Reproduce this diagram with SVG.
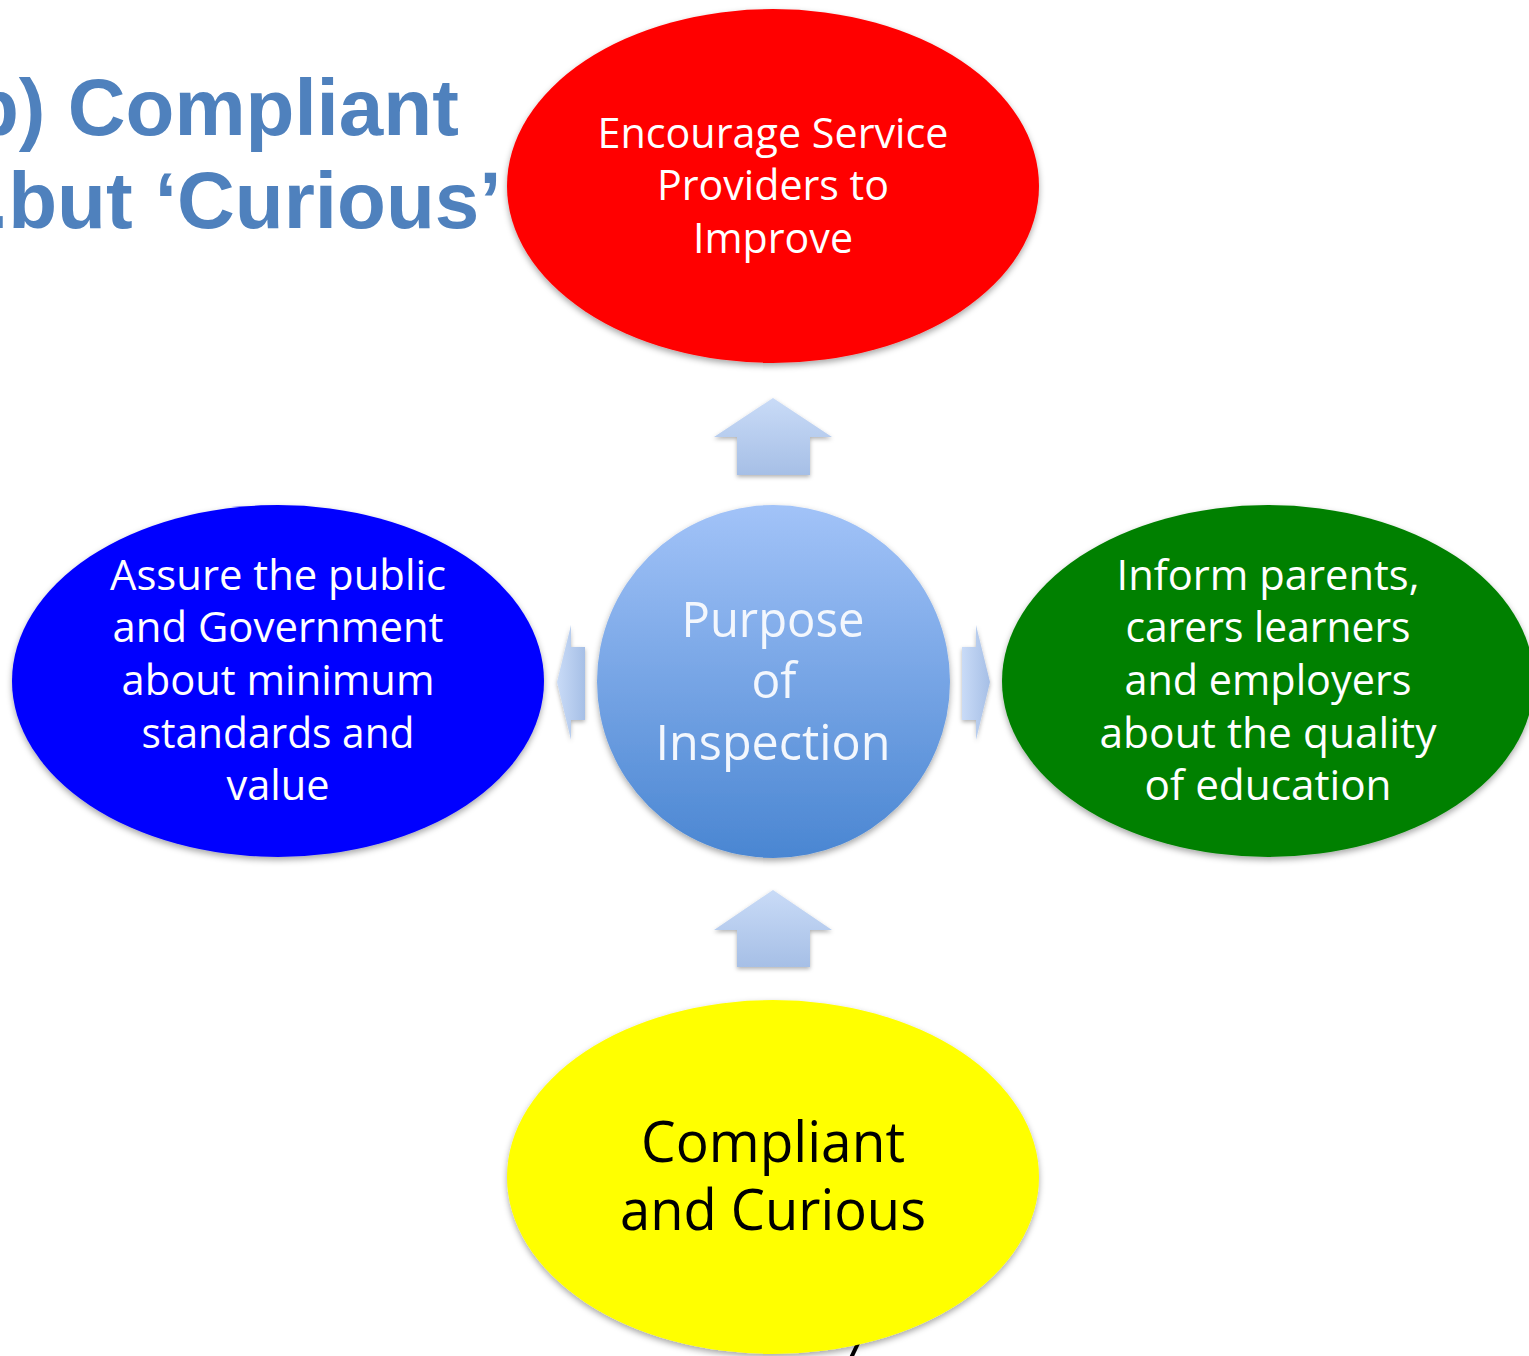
<svg xmlns="http://www.w3.org/2000/svg" width="1529" height="1356" viewBox="0 0 1529 1356">
<defs>
<style>
.lbl{font-family:"Open Sans","Noto Sans","Liberation Sans",sans-serif;text-anchor:middle;}
.w{fill:#ffffff;font-size:42px;}
.c{fill:#f3f7fd;font-size:50px;}
.y{fill:#000000;font-size:57px;}
.title{font-family:"Liberation Sans",Arial,sans-serif;font-weight:bold;font-size:80px;fill:#4f81bd;}
.arrow{fill:url(#ag);}
</style>
<filter id="sh" x="-10%" y="-10%" width="120%" height="125%">
<feDropShadow dx="0" dy="3" stdDeviation="3" flood-color="#000" flood-opacity="0.35"/>
</filter>
<filter id="ash" x="-20%" y="-20%" width="140%" height="150%">
<feDropShadow dx="0" dy="2" stdDeviation="2" flood-color="#000" flood-opacity="0.3"/>
</filter>
<linearGradient id="cg" x1="0" y1="0" x2="0" y2="1">
<stop offset="0" stop-color="#a2c3f8"/>
<stop offset="1" stop-color="#4a86d2"/>
</linearGradient>
<linearGradient id="ag" x1="0" y1="0" x2="0" y2="1">
<stop offset="0" stop-color="#c9dbf7"/>
<stop offset="1" stop-color="#a6bfe6"/>
</linearGradient>
<linearGradient id="agh" x1="0" y1="0" x2="1" y2="0">
<stop offset="0" stop-color="#c9dbf7"/>
<stop offset="1" stop-color="#a6bfe6"/>
</linearGradient>
</defs>
<rect width="1529" height="1356" fill="#ffffff"/>

<g id="title">
<text class="title" x="-30" y="135">b) Compliant</text>
<text class="title" x="-14" y="228">.but ‘Curious’</text>
</g>

<path d="M851,1358 L861,1337" stroke="#000" stroke-width="4" fill="none"/>

<g id="connectors" filter="url(#ash)">
<path class="arrow" d="M773,398 L832,437 L810,437 L810,475 L737,475 L737,437 L714,437 Z"/>
<path class="arrow" d="M773,890 L832,930 L810,930 L810,967 L737,967 L737,930 L714,930 Z"/>
<path fill="url(#agh)" d="M557,682 L571,625 L571,647 L585,647 L585,720 L571,720 L571,740 Z"/>
<path fill="url(#agh)" d="M990,682 L976,625 L976,647 L962,647 L962,720 L976,720 L976,740 Z"/>
</g>

<g id="node-top">
<ellipse cx="773" cy="186" rx="266" ry="177" fill="#ff0000" filter="url(#sh)"/>
<text class="lbl w" x="773" y="148" textLength="351" lengthAdjust="spacingAndGlyphs">Encourage Service</text>
<text class="lbl w" x="773" y="200" textLength="232" lengthAdjust="spacingAndGlyphs">Providers to</text>
<text class="lbl w" x="773" y="253" textLength="160" lengthAdjust="spacingAndGlyphs">Improve</text>
</g>

<g id="node-left">
<ellipse cx="278" cy="681" rx="266" ry="176" fill="#0000ff" filter="url(#sh)"/>
<text class="lbl w" x="278" y="590" textLength="336" lengthAdjust="spacingAndGlyphs">Assure the public</text>
<text class="lbl w" x="278" y="642" textLength="331" lengthAdjust="spacingAndGlyphs">and Government</text>
<text class="lbl w" x="278" y="695" textLength="313" lengthAdjust="spacingAndGlyphs">about minimum</text>
<text class="lbl w" x="278" y="748" textLength="273" lengthAdjust="spacingAndGlyphs">standards and</text>
<text class="lbl w" x="278" y="800" textLength="103" lengthAdjust="spacingAndGlyphs">value</text>
</g>

<g id="node-right">
<ellipse cx="1268" cy="681" rx="266" ry="176" fill="#008000" filter="url(#sh)"/>
<text class="lbl w" x="1268" y="590" textLength="303" lengthAdjust="spacingAndGlyphs">Inform parents,</text>
<text class="lbl w" x="1268" y="642" textLength="285" lengthAdjust="spacingAndGlyphs">carers learners</text>
<text class="lbl w" x="1268" y="695" textLength="287" lengthAdjust="spacingAndGlyphs">and employers</text>
<text class="lbl w" x="1268" y="748" textLength="337" lengthAdjust="spacingAndGlyphs">about the quality</text>
<text class="lbl w" x="1268" y="800" textLength="247" lengthAdjust="spacingAndGlyphs">of education</text>
</g>

<g id="node-center">
<circle cx="773.5" cy="681.5" r="176.5" fill="url(#cg)" filter="url(#sh)"/>
<text class="lbl c" x="773" y="637" textLength="183" lengthAdjust="spacingAndGlyphs">Purpose</text>
<text class="lbl c" x="774" y="698" textLength="45" lengthAdjust="spacingAndGlyphs">of</text>
<text class="lbl c" x="773" y="760" textLength="235" lengthAdjust="spacingAndGlyphs">Inspection</text>
</g>

<g id="node-bottom">
<ellipse cx="773" cy="1177" rx="266" ry="177" fill="#ffff00" filter="url(#sh)"/>
<text class="lbl y" x="773" y="1162" textLength="264" lengthAdjust="spacingAndGlyphs">Compliant</text>
<text class="lbl y" x="773" y="1230" textLength="306" lengthAdjust="spacingAndGlyphs">and Curious</text>
</g>
</svg>
